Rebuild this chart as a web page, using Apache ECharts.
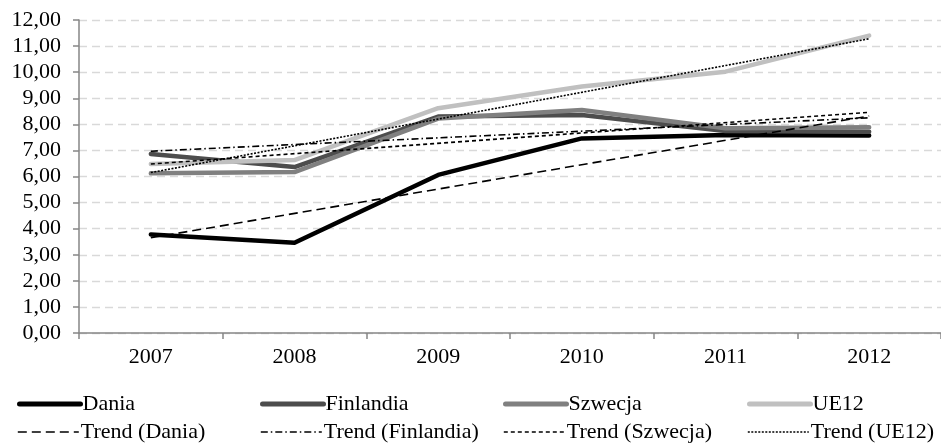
<!DOCTYPE html>
<html>
<head>
<meta charset="utf-8">
<script src="https://cdn.jsdelivr.net/npm/echarts@6/dist/echarts.min.js"></script>
<style>
html,body{margin:0;padding:0;background:#fff;}
#chart{width:941px;height:445px;}
</style>
</head>
<body>
<div id="chart"></div>
<script>
const categories = ['2007', '2008', '2009', '2010', '2011', '2012'];
const dania     = [3.78, 3.46, 6.06, 7.46, 7.59, 7.57];
const finlandia = [6.86, 6.36, 8.30, 8.36, 7.74, 7.72];
const szwecja   = [6.12, 6.17, 8.22, 8.55, 7.85, 7.89];
const ue12      = [6.48, 6.63, 8.62, 9.45, 10.02, 11.40];
// trend lines (start and end values)
const trendDania     = [3.65, null, null, null, null, 8.32];
const trendFinlandia = [6.97, null, null, null, null, 8.25];
const trendSzwecja   = [6.48, null, null, null, null, 8.46];
const trendUe12      = [6.15, null, null, null, null, 11.28];
const yTicks = [0, 1, 2, 3, 4, 5, 6, 7, 8, 9, 10, 11, 12];

const FONT = '"Liberation Serif", "Times New Roman", serif';

function solid(name, data, color) {
  return {
    name, type: 'line', data, symbol: 'none', showSymbol: false,
    lineStyle: { color, width: 4.5, cap: 'round', join: 'round' },
    itemStyle: { color },
    emphasis: { disabled: true }, animation: false
  };
}
function trend(name, data, dash) {
  return {
    name, type: 'line', data, symbol: 'none', showSymbol: false, connectNulls: true,
    lineStyle: { color: '#000', width: 1.6, type: dash },
    itemStyle: { color: '#000' },
    emphasis: { disabled: true }, animation: false
  };
}

const series = [
  solid('Dania', dania, '#000000'),
  solid('Finlandia', finlandia, '#4d4d4d'),
  solid('Szwecja', szwecja, '#808080'),
  solid('UE12', ue12, '#c0c0c0'),
  trend('Trend (Dania)', trendDania, [9, 5]),
  trend('Trend (Finlandia)', trendFinlandia, [7, 3, 1.5, 3]),
  trend('Trend (Szwecja)', trendSzwecja, [4, 3]),
  trend('Trend (UE12)', trendUe12, [2, 1.5])
];

const legendLefts = [17, 260, 503, 747];
const legendTops = [393, 421];
const legends = series.map((s, i) => ({
  data: [s.name],
  left: legendLefts[i % 4],
  top: legendTops[Math.floor(i / 4)],
  itemWidth: 61,
  itemHeight: 14,
  padding: 0,
  selectedMode: false,
  itemStyle: { opacity: 0 },
  lineStyle: { width: i < 4 ? 5 : 1.6 },
  textStyle: { fontFamily: FONT, fontSize: 22, color: '#000', padding: [0, 0, 0, -3] }
}));

const chart = echarts.init(document.getElementById('chart'));
chart.setOption({
  backgroundColor: '#fff',
  animation: false,
  textStyle: { fontFamily: FONT },
  grid: { left: 79, right: -4, top: 20, bottom: 112, containLabel: false },
  legend: legends,
  xAxis: {
    type: 'category',
    data: categories,
    boundaryGap: true,
    axisLine: { lineStyle: { color: '#868686', width: 1.5 } },
    axisTick: { show: true, length: 6, lineStyle: { color: '#868686', width: 1.5 } },
    axisLabel: { fontFamily: FONT, fontSize: 22, color: '#000', margin: 13 },
    splitLine: { show: false }
  },
  yAxis: {
    type: 'value',
    min: yTicks[0],
    max: yTicks[yTicks.length - 1],
    interval: 1,
    axisLine: { show: true, lineStyle: { color: '#868686', width: 1.5 } },
    axisTick: { show: true, length: 6, lineStyle: { color: '#868686', width: 1.5 } },
    axisLabel: {
      fontFamily: FONT, fontSize: 22, color: '#000', margin: 18,
      formatter: v => v.toFixed(2).replace('.', ',')
    },
    splitLine: { show: true, lineStyle: { color: '#d9d9d9', width: 1.3, type: [8, 5] } }
  },
  series
});
</script>
</body>
</html>
